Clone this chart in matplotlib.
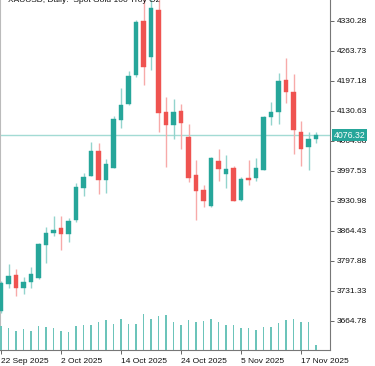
import matplotlib
matplotlib.use('Agg')
import matplotlib.pyplot as plt
import matplotlib.transforms as mtransforms
import numpy as np

plt.rcParams['font.family'] = ['Liberation Sans', 'DejaVu Sans']

# ===== daily OHLC, XAUUSD 22 Sep - 19 Nov 2025 =====
opens = [3686.3, 3745.5, 3766.1, 3738.0, 3751.3, 3758.8, 3832.6, 3858.6, 3869.7, 3856.4,
         3888.1, 3959.7, 3985.7, 4041.8, 3976.1, 4004.1, 4109.8, 4144.7, 4209.6, 4330.1,
         4248.9, 4353.8, 4126.9, 4097.7, 4130.5, 4072.8, 3987.9, 3954.6, 3919.1, 4019.6,
         3989.6, 4002.7, 3932.4, 3982.3, 3980.6, 3998.9, 4116.5, 4128.2, 4198.5, 4171.3,
         4082.6, 4050.6, 4068.8]
highs = [3752.0, 3790.5, 3778.7, 3761.0, 3783.2, 3837.1, 3871.9, 3896.9, 3896.9, 3891.9,
         3970.8, 3993.0, 4060.4, 4059.5, 4023.4, 4118.7, 4180.1, 4219.2, 4331.6, 4380.0,
         4378.0, 4382.0, 4161.5, 4156.4, 4145.3, 4100.0, 4021.1, 3965.7, 4028.5, 4044.9,
         4032.2, 4007.8, 3984.1, 4021.1, 4026.7, 4118.0, 4149.1, 4213.4, 4246.7, 4211.9,
         4107.6, 4083.2, 4082.6]
lows = [3682.0, 3738.0, 3719.6, 3723.3, 3736.6, 3757.0, 3793.4, 3852.6, 3821.6, 3840.0,
        3884.3, 3941.3, 3985.0, 3945.7, 3948.6, 4003.0, 4091.4, 4142.4, 4204.5, 4187.5,
        4220.7, 4083.9, 4004.9, 4067.1, 4044.9, 3973.0, 3888.1, 3916.3, 3916.3, 3973.5,
        3959.0, 3930.2, 3931.3, 3965.7, 3974.6, 3998.0, 4098.8, 4100.3, 4146.9, 4033.8,
        4007.8, 3998.9, 4058.2]
closes = [3747.7, 3763.9, 3736.6, 3749.9, 3767.7, 3834.9, 3858.6, 3865.9, 3856.4, 3885.9,
          3961.9, 3984.1, 4041.8, 3976.1, 4012.3, 4111.4, 4142.4, 4207.4, 4326.5, 4226.7,
          4357.6, 4124.7, 4098.8, 4127.6, 4103.9, 3981.2, 3953.1, 3930.2, 4024.9, 4000.5,
          4002.3, 3930.9, 3979.7, 3977.9, 4004.5, 4117.2, 4128.2, 4196.3, 4171.3, 4087.7,
          4045.5, 4067.7, 4076.32]
tick_volume = [240, 217, 190, 210, 190, 240, 233, 220, 193, 180,
               243, 250, 250, 280, 300, 260, 310, 260, 263, 360,
               307, 343, 350, 283, 253, 300, 283, 293, 307, 280,
               253, 253, 223, 223, 203, 230, 230, 273, 300, 307,
               283, 283, 50]

date_ticks = [0, 8, 16, 24, 32, 40]
date_labels = ['22 Sep 2025', '2 Oct 2025', '14 Oct 2025', '24 Oct 2025',
               '5 Nov 2025', '17 Nov 2025']
price_ticks = [4330.28, 4263.73, 4197.18, 4130.63, 4064.08, 3997.53,
               3930.98, 3864.43, 3797.88, 3731.33, 3664.78]
last_price = 4076.32

up_col, dn_col = '#26a69a', '#ef5350'
up_wick, dn_wick = '#93d4cd', '#f7aaa9'

fig = plt.figure(figsize=(3.75, 3.66), dpi=100)
ax = fig.add_axes([0.0, 16 / 366, 330 / 375, 350 / 366])

# volumes along the bottom (hidden twin axis)
ax2 = ax.twinx()
idx = np.arange(len(opens))
ax2.bar(idx, tick_volume, width=0.16, color='#6cc4ba', zorder=2)
ax2.set_ylim(0, 3500)
ax2.set_yticks([])
for s in ax2.spines.values():
    s.set_visible(False)

o = np.array(opens)
c = np.array(closes)
hi = np.array(highs)
lo = np.array(lows)
up = c >= o

# wicks
ax.vlines(idx[up], lo[up], hi[up], color=up_wick, lw=1.0, zorder=2)
ax.vlines(idx[~up], lo[~up], hi[~up], color=dn_wick, lw=1.0, zorder=2)
# bodies
body_lo = np.minimum(o, c)
body_h = np.maximum(np.abs(c - o), 1.0)
ax.bar(idx[up], body_h[up], bottom=body_lo[up], width=0.66, color=up_col,
       edgecolor=up_col, linewidth=0.3, zorder=3)
ax.bar(idx[~up], body_h[~up], bottom=body_lo[~up], width=0.66, color=dn_col,
       edgecolor=dn_col, linewidth=0.3, zorder=3)

ax.axhline(last_price, color='#a3dbd4', lw=1.0, zorder=1)

ax.set_xlim(-1 / 7.5, 329 / 7.5)
ax.set_ylim(3599.8, 4376.0)

# twinx moved the ticks to the left, put them back on the right
ax.yaxis.tick_right()
ax.set_yticks(price_ticks)
ax.set_yticklabels([f'{v:.2f}' for v in price_ticks])
ax.set_xticks(date_ticks)
ax.set_xticklabels(date_labels, ha='left')
ax.tick_params(axis='both', labelsize=6, length=3, width=0.7, color='#666',
               labelcolor='#111', pad=2)
ax.tick_params(axis='x', pad=3)

ax.spines['top'].set_visible(False)
ax.spines['right'].set_color('#777')
ax.spines['bottom'].set_color('#777')
ax.spines['left'].set_color('#bbb')
for s in ['right', 'bottom', 'left']:
    ax.spines[s].set_linewidth(0.8)

# last price tag on the price scale
trans = mtransforms.blended_transform_factory(ax.transAxes, ax.transData)
ax.text(1.012, last_price, f'{last_price:.2f}', transform=trans, fontsize=6.3,
        color='white', va='center', ha='left', zorder=10, clip_on=False,
        bbox=dict(boxstyle='square,pad=0.2', facecolor=up_col, edgecolor='none'))

fig.text(8 / 375, 1 - 2.5 / 366, 'XAUUSD, Daily:  Spot Gold 100 Troy Oz',
         fontsize=6, color='#111', va='baseline', ha='left')

plt.savefig('out.png', dpi=100)
